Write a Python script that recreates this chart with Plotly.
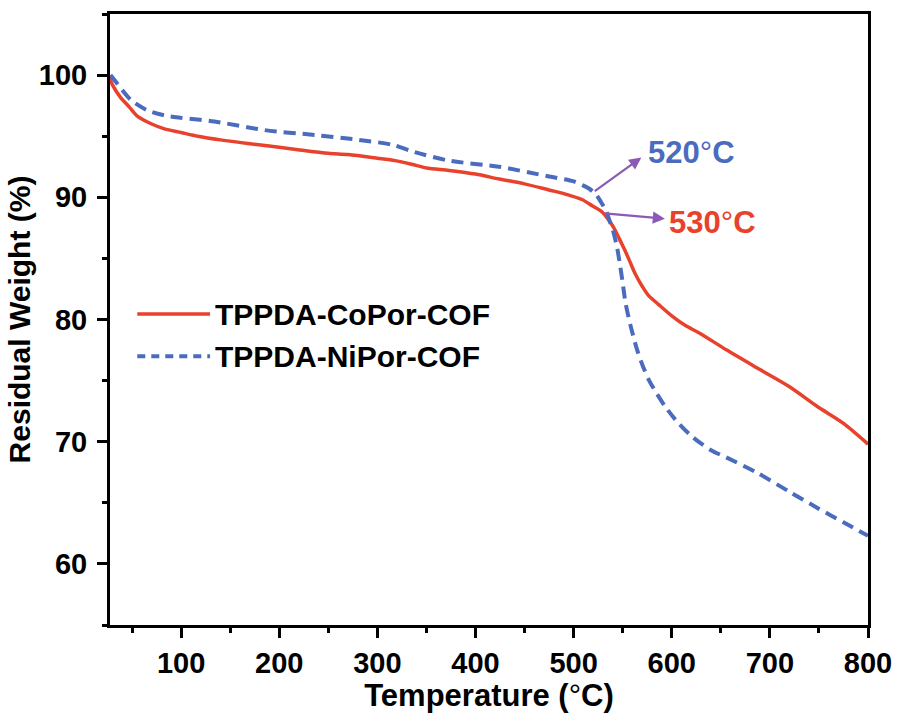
import numpy as np
import plotly.graph_objects as go

# Thermogravimetric curves (temperature in °C, residual weight in %)
co_temp = [26, 30, 38, 47, 56, 70, 83, 100, 117, 140, 168, 200, 219, 250, 270, 300,
           318, 335, 350, 373, 400, 424, 450, 475, 490, 509, 519, 529, 536, 541,
           546, 552, 557, 563, 570, 576, 587, 600, 614, 628, 656, 690, 720, 748, 775, 800]
co_weight = [100, 99.2, 98.2, 97.4, 96.6, 96.0, 95.6, 95.3, 95.0, 94.7, 94.4, 94.1,
             93.9, 93.6, 93.5, 93.2, 93.0, 92.7, 92.4, 92.2, 91.9, 91.5, 91.1, 90.6,
             90.3, 89.8, 89.3, 88.8, 88.1, 87.5, 86.7, 85.7, 84.8, 83.7, 82.7, 82.0,
             81.2, 80.3, 79.5, 78.9, 77.5, 75.9, 74.5, 72.9, 71.5, 69.8]

ni_temp = [28, 35, 49, 66, 83, 100, 134, 185, 236, 281, 315, 338, 373, 424, 475, 500,
           509, 516, 523, 528, 533, 537, 540, 544, 547, 550, 553, 558, 564, 570, 577,
           585, 594, 607, 621, 640, 656, 686, 720, 748, 775, 800]
ni_weight = [100, 99.3, 97.95, 97.1, 96.7, 96.5, 96.2, 95.5, 95.1, 94.7, 94.3, 93.7,
             93.0, 92.5, 91.7, 91.3, 91.0, 90.7, 90.2, 89.6, 88.9, 88.0, 87.3, 86.0,
             84.6, 83.0, 81.3, 79.5, 77.7, 76.3, 75.0, 73.9, 72.8, 71.5, 70.4, 69.3,
             68.7, 67.5, 65.9, 64.6, 63.4, 62.3]

series_names = ["TPPDA-CoPor-COF", "TPPDA-NiPor-COF"]
onset_temps = [530, 520]  # Co, Ni
x_ticks = [100, 200, 300, 400, 500, 600, 700, 800]
y_ticks = [60, 70, 80, 90, 100]

RED = "#E8412C"
BLUE = "#4A6BBE"
PURPLE = "#8C5AB6"
FONT = "Liberation Sans, Arial, Helvetica, sans-serif"
DEG = "<span style='font-weight:normal'>°</span>"

fig = go.Figure()
fig.add_trace(go.Scatter(x=co_temp, y=co_weight, mode="lines", name=series_names[0],
                         line=dict(color=RED, width=3.5, shape="spline", smoothing=0.8),
                         showlegend=False))
fig.add_trace(go.Scatter(x=ni_temp, y=ni_weight, mode="lines", name=series_names[1],
                         line=dict(color=BLUE, width=4, dash="12px,7px",
                                   shape="spline", smoothing=0.8),
                         showlegend=False))

axis_common = dict(
    showline=True, linecolor="black", linewidth=3, mirror=True,
    ticks="outside", ticklen=10, tickwidth=3, tickcolor="black",
    showgrid=False, zeroline=False, automargin=False,
    tickfont=dict(family=FONT, size=29, color="black", weight="bold"),
)

fig.update_xaxes(
    range=[27.5, 800], tickvals=x_ticks,
    minor=dict(ticks="outside", ticklen=5, tickwidth=3, tickcolor="black", dtick=50, tick0=0),
    title=dict(text=f"Temperature ({DEG}C)", standoff=4,
               font=dict(family=FONT, size=31, color="black", weight="bold")),
    **axis_common,
)
fig.update_yaxes(
    range=[55, 105], tickvals=y_ticks, ticklabelstandoff=4,
    minor=dict(ticks="outside", ticklen=5, tickwidth=3, tickcolor="black", dtick=5, tick0=0),
    title=dict(text="Residual Weight (%)", standoff=0,
               font=dict(family=FONT, size=30, color="black", weight="bold")),
    **axis_common,
)

# Onset arrows start on each curve at its labelled temperature
co_on = (onset_temps[0], float(np.interp(onset_temps[0], co_temp, co_weight)))
ni_on = (onset_temps[1], float(np.interp(onset_temps[1], ni_temp, ni_weight)))

annotations = [
    dict(x=569, y=93.25, ax=ni_on[0], ay=ni_on[1], axref="x", ayref="y",
         xref="x", yref="y", text="", showarrow=True, arrowhead=2, arrowsize=1.1,
         arrowwidth=2.2, arrowcolor=PURPLE),
    dict(x=593, y=88.25, ax=co_on[0], ay=co_on[1], axref="x", ayref="y",
         xref="x", yref="y", text="", showarrow=True, arrowhead=2, arrowsize=1.1,
         arrowwidth=2.2, arrowcolor=PURPLE),
    dict(x=574, y=93.7, xref="x", yref="y", xanchor="left", yanchor="middle",
         text=f"{onset_temps[1]}{DEG}C", showarrow=False,
         font=dict(family=FONT, size=31, color=BLUE, weight="bold")),
    dict(x=595, y=87.95, xref="x", yref="y", xanchor="left", yanchor="middle",
         text=f"{onset_temps[0]}{DEG}C", showarrow=False,
         font=dict(family=FONT, size=31, color=RED, weight="bold")),
]

# Legend drawn by hand so the sample lines can be long
legend_rows = [(0.509, RED, "solid", 3.5), (0.440, BLUE, "8px,6px", 4)]
shapes = []
for (ypos, col, dash, w), name in zip(legend_rows, series_names):
    shapes.append(dict(type="line", xref="paper", yref="paper", x0=0.036, x1=0.132,
                       y0=ypos, y1=ypos, line=dict(color=col, width=w, dash=dash)))
    annotations.append(dict(x=0.136, y=ypos, xref="paper", yref="paper",
                            xanchor="left", yanchor="middle", text=name, showarrow=False,
                            font=dict(family=FONT, size=30, color="black", weight="bold")))

fig.update_layout(
    width=897, height=713,
    margin=dict(l=110, r=29, t=14, b=88),
    paper_bgcolor="white", plot_bgcolor="white",
    annotations=annotations, shapes=shapes,
    showlegend=False,
)

fig.write_html("out.html")
